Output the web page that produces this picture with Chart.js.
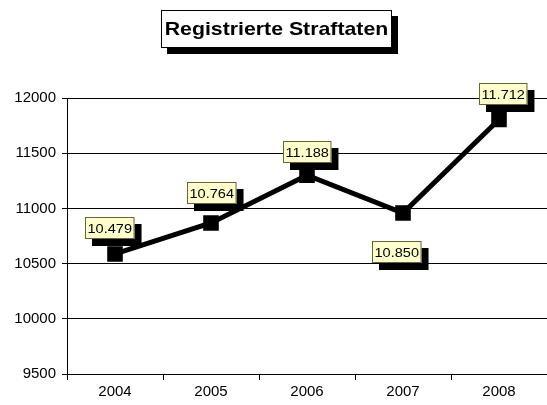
<!DOCTYPE html>
<html>
<head>
<meta charset="utf-8">
<script src="https://cdn.jsdelivr.net/npm/chart.js@4.4.1/dist/chart.umd.min.js"></script>
<style>
  html, body { margin: 0; padding: 0; background: #fff; }
  .chartBox { width: 547px; height: 405px; }
</style>
</head>
<body>
<div class="chartBox">
  <canvas id="myChart" width="547" height="405"></canvas>
</div>
<script>
// years on the x axis
var years = ['2004', '2005', '2006', '2007', '2008'];
// where the markers sit on the y axis
var plotted = [10587, 10868, 11300, 10958, 11805];
// the printed data labels
var labelText = ['10.479', '10.764', '11.188', '10.850', '11.712'];
// label box offset from its marker (px)
var labelOffsets = [[-5, -26], [1, -30], [0, -23], [-6, 39], [4, -26]];

var chartTitle = 'Registrierte Straftaten';
var stretch = 1.12; // text in the picture is a bit wide

function wideText(ctx, txt, cx, cy) {
  ctx.save();
  ctx.translate(cx, cy);
  ctx.scale(stretch, 1);
  ctx.fillText(txt, 0, 0);
  ctx.restore();
}

// title in a framed box with a drop shadow
var titleBox = {
  id: 'titleBox',
  afterDraw: function(chart) {
    var ctx = chart.ctx;
    ctx.save();
    ctx.font = 'bold 19px "Liberation Sans", Arial, sans-serif';
    var x = 161, y = 10, w = 231, h = 38;
    ctx.fillStyle = '#000';
    ctx.fillRect(x + 6, y + 6, w, h);
    ctx.fillStyle = '#fff';
    ctx.fillRect(x, y, w, h);
    ctx.strokeStyle = '#000';
    ctx.lineWidth = 1;
    ctx.strokeRect(x + 0.5, y + 0.5, w - 1, h - 1);
    ctx.fillStyle = '#000';
    ctx.textAlign = 'center';
    ctx.textBaseline = 'middle';
    wideText(ctx, chartTitle, x + w / 2, y + h / 2 + 1);
    ctx.restore();
  }
};

// yellow value boxes with shadows
var valueBoxes = {
  id: 'valueBoxes',
  afterDatasetsDraw: function(chart) {
    var ctx = chart.ctx;
    var meta = chart.getDatasetMeta(0);
    ctx.save();
    ctx.font = '13px "Liberation Sans", Arial, sans-serif';
    ctx.textAlign = 'center';
    ctx.textBaseline = 'middle';
    for (var i = 0; i < meta.data.length; i++) {
      var p = meta.data[i];
      var cx = p.x + labelOffsets[i][0];
      var cy = p.y + labelOffsets[i][1];
      var w = ctx.measureText(labelText[i]).width * stretch + 5;
      var h = 22;
      var x = Math.round(cx - w / 2), y = Math.round(cy - h / 2);
      ctx.fillStyle = '#000';
      ctx.fillRect(x + 7, y + 7, w, h);
      ctx.fillStyle = '#ffffcc';
      ctx.fillRect(x, y, w, h);
      ctx.strokeStyle = '#666633';
      ctx.lineWidth = 1;
      ctx.strokeRect(x + 0.5, y + 0.5, w - 1, h - 1);
      ctx.fillStyle = '#000';
      wideText(ctx, labelText[i], x + w / 2, y + h / 2 + 1);
    }
    ctx.restore();
  }
};

var ctx = document.getElementById('myChart').getContext('2d');
var myChart = new Chart(ctx, {
  type: 'line',
  data: {
    labels: years,
    datasets: [{
      label: chartTitle,
      data: plotted,
      borderColor: '#000',
      backgroundColor: '#000',
      borderWidth: 5,
      pointStyle: 'rect',
      pointRadius: 7.5,
      pointHoverRadius: 7.5,
      tension: 0
    }]
  },
  options: {
    responsive: false,
    animation: false,
    layout: { autoPadding: false, padding: { top: 98, right: 0, left: 0, bottom: 0 } },
    plugins: {
      legend: { display: false },
      tooltip: { enabled: false },
      title: { display: false }
    },
    scales: {
      x: {
        offset: true,
        grid: { offset: true, drawOnChartArea: false, color: '#000', tickLength: 6 },
        border: { color: '#000' },
        ticks: { color: '#000', font: { family: '"Liberation Sans", Arial', size: 15 }, padding: 3 },
        afterFit: function(scale) {
          scale.height = 31;
          scale.paddingLeft = 0;
          scale.paddingRight = 0;
        }
      },
      y: {
        min: 9500,
        max: 12000,
        ticks: {
          stepSize: 500, color: '#000', padding: 6,
          font: { family: '"Liberation Sans", Arial', size: 15 },
          callback: function(v) { return String(v); }
        },
        grid: { color: '#000', tickLength: 5 },
        border: { color: '#000' },
        afterFit: function(scale) {
          scale.width = 67;
          scale.paddingTop = 0;
          scale.paddingBottom = 0;
        }
      }
    }
  },
  plugins: [titleBox, valueBoxes]
});
</script>
</body>
</html>
